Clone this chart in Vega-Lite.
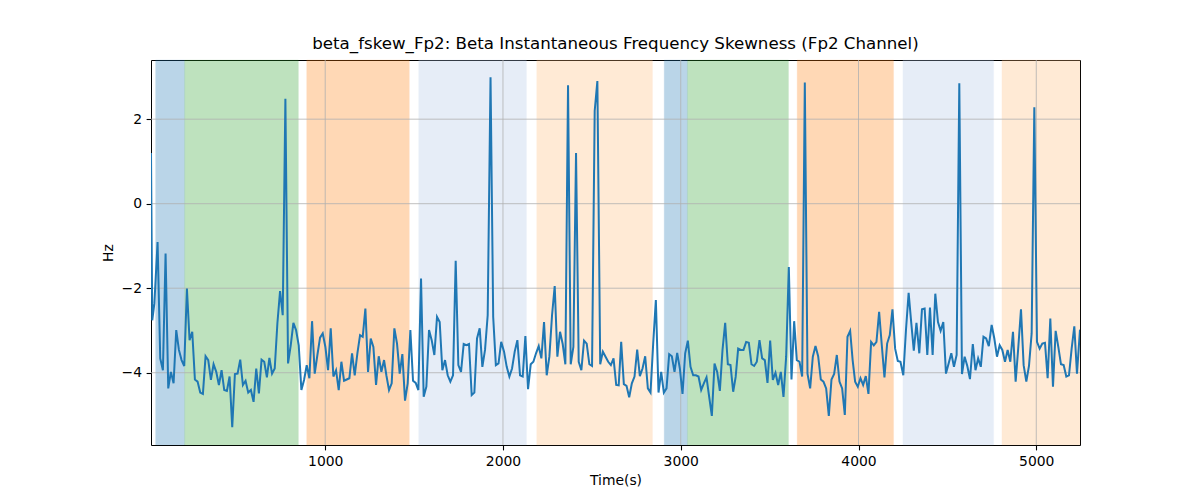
{
  "$schema": "https://vega.github.io/schema/vega-lite/v6.json",
  "width": 929,
  "height": 385,
  "autosize": {"type": "none"},
  "padding": {"left": 151, "top": 60, "right": 120, "bottom": 55},
  "background": "white",
  "config": {
    "view": {"stroke": "black", "strokeWidth": 1},
    "font": "DejaVu Sans",
    "axis": {
      "grid": false, "domain": false, "tickColor": "black", "tickWidth": 1.1, "tickSize": 4.9,
      "labelFont": "DejaVu Sans", "labelFontSize": 13.9, "labelColor": "black", "labelPadding": 4.5,
      "titleFont": "DejaVu Sans", "titleFontSize": 13.9, "titleFontWeight": "normal", "titleColor": "black", "titlePadding": 5.6
    }
  },
  "title": {
    "text": "beta_fskew_Fp2: Beta Instantaneous Frequency Skewness (Fp2 Channel)",
    "font": "DejaVu Sans", "fontSize": 16.67, "fontWeight": "normal", "color": "black", "offset": 7, "anchor": "middle"
  },
  "datasets": {
    "spans": [
      {"start": 46, "end": 209, "color": "#1f77b4"},
      {"start": 209, "end": 849, "color": "#2ca02c"},
      {"start": 896, "end": 1473, "color": "#ff7f0e"},
      {"start": 1526, "end": 2132, "color": "#aec7e8"},
      {"start": 2190, "end": 2841, "color": "#ffbb78"},
      {"start": 2907, "end": 3038, "color": "#1f77b4"},
      {"start": 3038, "end": 3606, "color": "#2ca02c"},
      {"start": 3655, "end": 4197, "color": "#ff7f0e"},
      {"start": 4250, "end": 4760, "color": "#aec7e8"},
      {"start": 4807, "end": 5246, "color": "#ffbb78"}
    ],
    "xgrid": [{"v": 1000}, {"v": 2000}, {"v": 3000}, {"v": 4000}, {"v": 5000}],
    "ygrid": [{"v": -4}, {"v": -2}, {"v": 0}, {"v": 2}],
    "series": [
      {"t": 20, "hz": 1.2}, {"t": 27, "hz": -2.76}, {"t": 39, "hz": -2.36}, {"t": 57, "hz": -0.91}, {"t": 72, "hz": -3.66},
      {"t": 87, "hz": -3.94}, {"t": 102, "hz": -1.18}, {"t": 117, "hz": -4.37}, {"t": 132, "hz": -3.98}, {"t": 147, "hz": -4.25},
      {"t": 162, "hz": -2.99}, {"t": 177, "hz": -3.46}, {"t": 192, "hz": -3.7}, {"t": 207, "hz": -3.84}, {"t": 222, "hz": -2.01},
      {"t": 237, "hz": -3.23}, {"t": 252, "hz": -3.03}, {"t": 267, "hz": -4.16}, {"t": 282, "hz": -4.21}, {"t": 297, "hz": -4.47},
      {"t": 312, "hz": -4.5}, {"t": 327, "hz": -3.61}, {"t": 342, "hz": -3.7}, {"t": 357, "hz": -4.17}, {"t": 372, "hz": -3.8},
      {"t": 387, "hz": -3.98}, {"t": 402, "hz": -4.29}, {"t": 417, "hz": -3.94}, {"t": 432, "hz": -4.41}, {"t": 447, "hz": -4.43},
      {"t": 462, "hz": -4.09}, {"t": 477, "hz": -5.29}, {"t": 492, "hz": -4.03}, {"t": 507, "hz": -4.02}, {"t": 522, "hz": -3.69},
      {"t": 537, "hz": -4.29}, {"t": 552, "hz": -4.19}, {"t": 567, "hz": -4.47}, {"t": 582, "hz": -4.41}, {"t": 597, "hz": -4.69},
      {"t": 612, "hz": -3.9}, {"t": 627, "hz": -4.49}, {"t": 642, "hz": -3.69}, {"t": 657, "hz": -3.74}, {"t": 672, "hz": -4.11},
      {"t": 686, "hz": -3.65}, {"t": 701, "hz": -4.02}, {"t": 716, "hz": -3.9}, {"t": 731, "hz": -2.83}, {"t": 746, "hz": -2.07},
      {"t": 761, "hz": -2.64}, {"t": 776, "hz": 2.48}, {"t": 791, "hz": -3.78}, {"t": 806, "hz": -3.35}, {"t": 821, "hz": -2.82},
      {"t": 836, "hz": -2.99}, {"t": 851, "hz": -3.35}, {"t": 866, "hz": -4.41}, {"t": 881, "hz": -4.17}, {"t": 896, "hz": -3.82},
      {"t": 911, "hz": -4.13}, {"t": 926, "hz": -2.78}, {"t": 941, "hz": -4.02}, {"t": 956, "hz": -3.58}, {"t": 971, "hz": -3.17},
      {"t": 986, "hz": -3.07}, {"t": 1001, "hz": -3.39}, {"t": 1016, "hz": -3.94}, {"t": 1031, "hz": -2.95}, {"t": 1046, "hz": -4.09},
      {"t": 1061, "hz": -3.94}, {"t": 1076, "hz": -4.41}, {"t": 1091, "hz": -3.74}, {"t": 1106, "hz": -4.19}, {"t": 1121, "hz": -4.16},
      {"t": 1136, "hz": -4.13}, {"t": 1151, "hz": -3.54}, {"t": 1166, "hz": -4.06}, {"t": 1181, "hz": -3.54}, {"t": 1196, "hz": -3.11},
      {"t": 1211, "hz": -3.15}, {"t": 1226, "hz": -2.48}, {"t": 1241, "hz": -3.98}, {"t": 1256, "hz": -3.19}, {"t": 1271, "hz": -3.39},
      {"t": 1286, "hz": -4.29}, {"t": 1301, "hz": -3.61}, {"t": 1316, "hz": -3.98}, {"t": 1331, "hz": -3.7}, {"t": 1344, "hz": -4.06},
      {"t": 1359, "hz": -4.41}, {"t": 1374, "hz": -4.25}, {"t": 1389, "hz": -2.95}, {"t": 1404, "hz": -3.31}, {"t": 1419, "hz": -4.02},
      {"t": 1434, "hz": -3.56}, {"t": 1449, "hz": -4.66}, {"t": 1464, "hz": -4.25}, {"t": 1479, "hz": -2.99}, {"t": 1494, "hz": -4.19},
      {"t": 1509, "hz": -4.24}, {"t": 1524, "hz": -4.41}, {"t": 1539, "hz": -1.77}, {"t": 1554, "hz": -4.57}, {"t": 1569, "hz": -4.33},
      {"t": 1584, "hz": -2.99}, {"t": 1599, "hz": -3.23}, {"t": 1614, "hz": -3.58}, {"t": 1629, "hz": -2.68}, {"t": 1644, "hz": -2.8},
      {"t": 1659, "hz": -3.94}, {"t": 1674, "hz": -3.7}, {"t": 1689, "hz": -4.06}, {"t": 1704, "hz": -4.21}, {"t": 1719, "hz": -4.06},
      {"t": 1734, "hz": -1.35}, {"t": 1749, "hz": -3.82}, {"t": 1764, "hz": -3.98}, {"t": 1779, "hz": -3.32}, {"t": 1794, "hz": -3.35},
      {"t": 1809, "hz": -3.32}, {"t": 1824, "hz": -4.53}, {"t": 1839, "hz": -4.47}, {"t": 1854, "hz": -3.19}, {"t": 1869, "hz": -2.95},
      {"t": 1884, "hz": -3.86}, {"t": 1899, "hz": -3.46}, {"t": 1914, "hz": -2.64}, {"t": 1930, "hz": 2.99}, {"t": 1945, "hz": -2.68},
      {"t": 1960, "hz": -3.82}, {"t": 1975, "hz": -3.78}, {"t": 1990, "hz": -3.27}, {"t": 2006, "hz": -3.5}, {"t": 2021, "hz": -3.86},
      {"t": 2036, "hz": -4.09}, {"t": 2051, "hz": -3.9}, {"t": 2066, "hz": -3.5}, {"t": 2081, "hz": -3.23}, {"t": 2096, "hz": -4.06},
      {"t": 2111, "hz": -4.09}, {"t": 2126, "hz": -3.13}, {"t": 2141, "hz": -4.39}, {"t": 2156, "hz": -3.8}, {"t": 2171, "hz": -3.74},
      {"t": 2186, "hz": -3.54}, {"t": 2201, "hz": -3.37}, {"t": 2216, "hz": -3.66}, {"t": 2231, "hz": -2.8}, {"t": 2246, "hz": -4.06},
      {"t": 2261, "hz": -3.62}, {"t": 2276, "hz": -2.64}, {"t": 2291, "hz": -1.95}, {"t": 2306, "hz": -3.62}, {"t": 2321, "hz": -3.03},
      {"t": 2336, "hz": -3.32}, {"t": 2351, "hz": -3.8}, {"t": 2366, "hz": 2.8}, {"t": 2381, "hz": -3.8}, {"t": 2396, "hz": -3.39},
      {"t": 2411, "hz": 1.2}, {"t": 2426, "hz": -3.74}, {"t": 2441, "hz": -3.94}, {"t": 2456, "hz": -3.24}, {"t": 2471, "hz": -3.31},
      {"t": 2486, "hz": -3.8}, {"t": 2501, "hz": -3.84}, {"t": 2516, "hz": 2.2}, {"t": 2531, "hz": 2.9}, {"t": 2547, "hz": -3.8},
      {"t": 2562, "hz": -3.5}, {"t": 2577, "hz": -3.62}, {"t": 2592, "hz": -3.74}, {"t": 2607, "hz": -3.82}, {"t": 2622, "hz": -3.66},
      {"t": 2637, "hz": -4.29}, {"t": 2651, "hz": -4.3}, {"t": 2665, "hz": -3.27}, {"t": 2680, "hz": -4.27}, {"t": 2695, "hz": -4.31},
      {"t": 2710, "hz": -4.58}, {"t": 2725, "hz": -4.25}, {"t": 2740, "hz": -4.09}, {"t": 2755, "hz": -3.45}, {"t": 2770, "hz": -4.08},
      {"t": 2785, "hz": -3.9}, {"t": 2800, "hz": -3.61}, {"t": 2815, "hz": -4.37}, {"t": 2830, "hz": -4.47}, {"t": 2845, "hz": -3.31},
      {"t": 2860, "hz": -2.28}, {"t": 2875, "hz": -4.47}, {"t": 2890, "hz": -3.98}, {"t": 2905, "hz": -4.47}, {"t": 2920, "hz": -4.37},
      {"t": 2935, "hz": -3.56}, {"t": 2950, "hz": -3.61}, {"t": 2965, "hz": -3.98}, {"t": 2980, "hz": -3.53}, {"t": 2995, "hz": -3.9},
      {"t": 3010, "hz": -4.5}, {"t": 3025, "hz": -3.54}, {"t": 3040, "hz": -3.24}, {"t": 3055, "hz": -3.86}, {"t": 3070, "hz": -4.06},
      {"t": 3085, "hz": -4.06}, {"t": 3100, "hz": -4.09}, {"t": 3115, "hz": -4.41}, {"t": 3130, "hz": -4.25}, {"t": 3145, "hz": -4.11},
      {"t": 3160, "hz": -4.57}, {"t": 3175, "hz": -5.02}, {"t": 3190, "hz": -3.78}, {"t": 3205, "hz": -3.98}, {"t": 3220, "hz": -4.43},
      {"t": 3235, "hz": -3.46}, {"t": 3250, "hz": -2.82}, {"t": 3265, "hz": -3.8}, {"t": 3280, "hz": -3.82}, {"t": 3295, "hz": -4.45},
      {"t": 3309, "hz": -4.1}, {"t": 3323, "hz": -3.43}, {"t": 3338, "hz": -3.46}, {"t": 3353, "hz": -3.46}, {"t": 3368, "hz": -3.27},
      {"t": 3383, "hz": -3.29}, {"t": 3398, "hz": -3.8}, {"t": 3413, "hz": -3.84}, {"t": 3428, "hz": -3.74}, {"t": 3443, "hz": -3.23},
      {"t": 3458, "hz": -3.66}, {"t": 3473, "hz": -3.7}, {"t": 3488, "hz": -4.24}, {"t": 3503, "hz": -3.24}, {"t": 3518, "hz": -4.17},
      {"t": 3533, "hz": -4.0}, {"t": 3548, "hz": -4.29}, {"t": 3563, "hz": -3.98}, {"t": 3578, "hz": -4.57}, {"t": 3593, "hz": -3.62},
      {"t": 3608, "hz": -1.5}, {"t": 3623, "hz": -4.16}, {"t": 3638, "hz": -2.78}, {"t": 3653, "hz": -3.7}, {"t": 3668, "hz": -3.74},
      {"t": 3683, "hz": -4.09}, {"t": 3698, "hz": 2.87}, {"t": 3713, "hz": -4.02}, {"t": 3728, "hz": -4.37}, {"t": 3743, "hz": -3.62},
      {"t": 3758, "hz": -3.37}, {"t": 3773, "hz": -3.61}, {"t": 3788, "hz": -4.16}, {"t": 3803, "hz": -4.21}, {"t": 3818, "hz": -4.37},
      {"t": 3833, "hz": -5.02}, {"t": 3848, "hz": -4.16}, {"t": 3863, "hz": -4.03}, {"t": 3878, "hz": -3.58}, {"t": 3893, "hz": -4.21},
      {"t": 3908, "hz": -4.37}, {"t": 3923, "hz": -5.0}, {"t": 3938, "hz": -3.15}, {"t": 3953, "hz": -3.01}, {"t": 3967, "hz": -3.7},
      {"t": 3981, "hz": -4.21}, {"t": 3996, "hz": -4.33}, {"t": 4011, "hz": -4.13}, {"t": 4026, "hz": -4.29}, {"t": 4041, "hz": -4.08},
      {"t": 4056, "hz": -4.5}, {"t": 4071, "hz": -3.27}, {"t": 4086, "hz": -3.35}, {"t": 4101, "hz": -3.27}, {"t": 4116, "hz": -2.56},
      {"t": 4131, "hz": -3.35}, {"t": 4146, "hz": -4.11}, {"t": 4161, "hz": -3.31}, {"t": 4176, "hz": -3.11}, {"t": 4191, "hz": -2.5},
      {"t": 4206, "hz": -3.43}, {"t": 4221, "hz": -3.72}, {"t": 4236, "hz": -3.74}, {"t": 4252, "hz": -4.06}, {"t": 4267, "hz": -2.99},
      {"t": 4282, "hz": -2.11}, {"t": 4297, "hz": -2.83}, {"t": 4311, "hz": -3.48}, {"t": 4326, "hz": -2.82}, {"t": 4342, "hz": -3.54},
      {"t": 4357, "hz": -2.5}, {"t": 4372, "hz": -2.48}, {"t": 4387, "hz": -3.58}, {"t": 4402, "hz": -2.46}, {"t": 4417, "hz": -3.58},
      {"t": 4432, "hz": -2.13}, {"t": 4447, "hz": -2.8}, {"t": 4462, "hz": -3.01}, {"t": 4477, "hz": -2.8}, {"t": 4492, "hz": -4.02},
      {"t": 4507, "hz": -3.78}, {"t": 4522, "hz": -3.54}, {"t": 4537, "hz": -3.86}, {"t": 4552, "hz": -3.58}, {"t": 4567, "hz": 2.85},
      {"t": 4582, "hz": -4.03}, {"t": 4597, "hz": -3.62}, {"t": 4612, "hz": -3.84}, {"t": 4627, "hz": -4.15}, {"t": 4643, "hz": -3.32},
      {"t": 4658, "hz": -3.94}, {"t": 4673, "hz": -3.66}, {"t": 4688, "hz": -3.86}, {"t": 4703, "hz": -3.15}, {"t": 4718, "hz": -3.19},
      {"t": 4733, "hz": -3.37}, {"t": 4749, "hz": -2.87}, {"t": 4764, "hz": -3.19}, {"t": 4779, "hz": -3.62}, {"t": 4794, "hz": -3.35},
      {"t": 4809, "hz": -3.46}, {"t": 4824, "hz": -3.74}, {"t": 4839, "hz": -3.46}, {"t": 4854, "hz": -3.74}, {"t": 4869, "hz": -3.03},
      {"t": 4884, "hz": -4.21}, {"t": 4899, "hz": -3.39}, {"t": 4914, "hz": -2.5}, {"t": 4929, "hz": -3.82}, {"t": 4944, "hz": -4.21},
      {"t": 4959, "hz": -3.84}, {"t": 4974, "hz": -3.07}, {"t": 4989, "hz": 2.28}, {"t": 5004, "hz": -3.27}, {"t": 5019, "hz": -3.43},
      {"t": 5034, "hz": -3.31}, {"t": 5049, "hz": -3.29}, {"t": 5064, "hz": -4.13}, {"t": 5079, "hz": -2.72}, {"t": 5094, "hz": -4.33},
      {"t": 5109, "hz": -3.01}, {"t": 5124, "hz": -3.39}, {"t": 5139, "hz": -3.8}, {"t": 5154, "hz": -3.82}, {"t": 5169, "hz": -4.09},
      {"t": 5184, "hz": -4.06}, {"t": 5199, "hz": -3.43}, {"t": 5214, "hz": -2.9}, {"t": 5229, "hz": -4.02}, {"t": 5246, "hz": -2.98}
    ]
  },
  "layer": [
    {
      "data": {"name": "spans"},
      "mark": {"type": "rect", "opacity": 0.3, "strokeWidth": 1, "strokeOpacity": 0.3},
      "encoding": {
        "x": {"field": "start", "type": "quantitative", "scale": {"domain": [20, 5246], "nice": false, "zero": false},
              "axis": {"values": [1000, 2000, 3000, 4000, 5000], "format": "d", "title": "Time(s)"}},
        "x2": {"field": "end"},
        "color": {"field": "color", "type": "nominal", "scale": null, "legend": null},
        "stroke": {"field": "color", "type": "nominal", "scale": null, "legend": null}
      }
    },
    {
      "data": {"name": "xgrid"},
      "mark": {"type": "rule", "color": "#b0b0b0", "strokeWidth": 0.8},
      "encoding": {"x": {"field": "v", "type": "quantitative"}}
    },
    {
      "data": {"name": "ygrid"},
      "mark": {"type": "rule", "color": "#b0b0b0", "strokeWidth": 0.8},
      "encoding": {"y": {"field": "v", "type": "quantitative"}}
    },
    {
      "data": {"name": "series"},
      "mark": {"type": "line", "color": "#1f77b4", "strokeWidth": 2, "clip": true},
      "encoding": {
        "x": {"field": "t", "type": "quantitative"},
        "y": {"field": "hz", "type": "quantitative", "scale": {"domain": [-5.71, 3.4], "nice": false, "zero": false},
              "axis": {"values": [-4, -2, 0, 2], "format": "d", "title": "Hz", "labelExpr": "replace(datum.label, '-', '\u2212')"}}
      }
    }
  ]
}
